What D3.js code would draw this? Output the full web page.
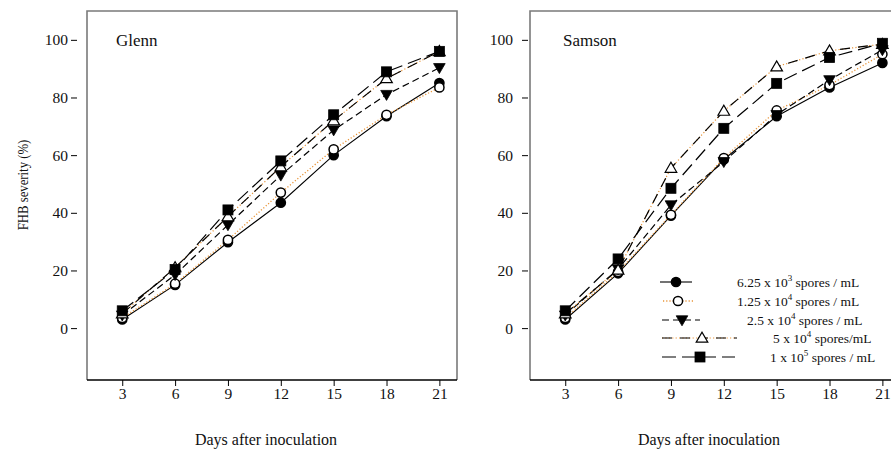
<!DOCTYPE html>
<html><head><meta charset="utf-8">
<script src="https://cdn.jsdelivr.net/npm/d3@7"></script>
<style>
body{margin:0;background:#fff;}
svg text{font-family:'Liberation Serif','Times New Roman',Times,serif !important;fill:#111;}
</style></head>
<body><svg id="c" width="891" height="449" font-family="Liberation Serif"></svg>
<script>
// ---- data ----
const days = [3, 6, 9, 12, 15, 18, 21];
const xTicks = [3, 6, 9, 12, 15, 18, 21];
const yTicks = [0, 20, 40, 60, 80, 100];
const cultivars = ["Glenn", "Samson"];
const legendMant = ["6.25 x 10", "1.25 x 10", "2.5 x 10", "5 x 10", "1 x 10"];
const legendExp = ["3", "4", "4", "4", "5"];
const legendUnit = [" spores / mL", " spores / mL", " spores / mL", " spores/mL", " spores / mL"];

// Glenn
const glenn_625e3 = [3.0, 15.0, 29.8, 43.5, 60.0, 73.5, 85.0];
const glenn_125e4 = [3.5, 15.4, 30.6, 47.0, 62.0, 74.0, 83.5];
const glenn_25e4  = [4.5, 18.5, 35.8, 53.0, 68.7, 81.0, 90.3];
const glenn_5e4   = [5.0, 21.0, 38.7, 56.0, 72.0, 86.6, 96.0];
const glenn_1e5   = [6.0, 20.3, 41.0, 58.0, 74.0, 88.9, 96.0];
// Samson
const samson_625e3 = [3.0, 19.0, 39.0, 58.5, 73.5, 83.5, 92.0];
const samson_125e4 = [3.5, 19.5, 39.3, 59.0, 75.5, 84.3, 95.0];
const samson_25e4  = [4.5, 20.5, 42.7, 57.7, 74.0, 86.1, 96.5];
const samson_5e4   = [5.0, 20.2, 55.5, 75.3, 90.7, 96.2, 98.5];
const samson_1e5   = [6.0, 24.0, 48.5, 69.3, 84.9, 93.9, 98.8];

const panelData = [
  [glenn_625e3, glenn_125e4, glenn_25e4, glenn_5e4, glenn_1e5],
  [samson_625e3, samson_125e4, samson_25e4, samson_5e4, samson_1e5]
];

// ---- styles ----
const FONT = "'Liberation Serif','Times New Roman',Times,serif";
const ORANGE = "#e8953a";
const markers = ["circleF", "circleO", "triDown", "triUp", "square"];

const svg = d3.select("#c");
const yTop = 11, yBot = 380;
const panels = [
  {x0: 87, x1: 457, tickOff: 10, tickPad: 3},
  {x0: 530, x1: 900, tickOff: 2, tickPad: 9}
];
const y = d3.scaleLinear().domain([-18, 110]).range([yBot, yTop]);

function drawMarker(g, type, cx, cy) {
  if (type === "circleF" || type === "circleO") {
    g.append("circle").attr("cx", cx).attr("cy", cy).attr("r", 4.6)
      .attr("fill", type === "circleF" ? "#000" : "#fff").attr("stroke", "#000").attr("stroke-width", 1.5);
  } else if (type === "square") {
    g.append("rect").attr("x", cx - 5).attr("y", cy - 5).attr("width", 10).attr("height", 10)
      .attr("fill", "#000").attr("stroke", "#000").attr("stroke-width", 0.8);
  } else if (type === "triDown") {
    g.append("path").attr("d", `M${cx-5.8},${cy-4.2}L${cx+5.8},${cy-4.2}L${cx},${cy+5.8}Z`)
      .attr("fill", "#000").attr("stroke", "#000").attr("stroke-width", 0.8);
  } else {
    g.append("path").attr("d", `M${cx-5.8},${cy+4.2}L${cx+5.8},${cy+4.2}L${cx},${cy-5.8}Z`)
      .attr("fill", "#fff").attr("stroke", "#000").attr("stroke-width", 1.2);
  }
}

function styleLine(sel, i, layer) {
  sel.attr("fill", "none");
  if (i === 0) sel.attr("stroke", "#000").attr("stroke-width", 1.1);
  else if (i === 1) sel.attr("stroke", ORANGE).attr("stroke-width", 1.3).attr("stroke-dasharray", "1.2,2");
  else if (i === 2) sel.attr("stroke", "#000").attr("stroke-width", 1.2).attr("stroke-dasharray", "7,4");
  else if (i === 3) {
    if (layer === 0) sel.attr("stroke", ORANGE).attr("stroke-width", 1.2).attr("stroke-dasharray", "1.2,2.2");
    else sel.attr("stroke", "#000").attr("stroke-width", 1.2).attr("stroke-dasharray", "10,8");
  } else sel.attr("stroke", "#000").attr("stroke-width", 1.2).attr("stroke-dasharray", "14,6");
}

function drawLine(g, pts, i) {
  const d = d3.line()(pts);
  styleLine(g.append("path").attr("d", d), i, 0);
  if (i === 3) styleLine(g.append("path").attr("d", d), i, 1);
}

panels.forEach((p, pi) => {
  const x = d3.scaleLinear().domain([1, 22]).range([p.x0, p.x1]);
  const g = svg.append("g");

  // frame
  g.append("path").attr("d", `M${p.x0},${yBot}V${yTop}H${p.x1}V${yBot}`)
    .attr("fill", "none").attr("stroke", "#7a7a7a").attr("stroke-width", 1.6);
  g.append("line").attr("x1", p.x0).attr("x2", p.x1).attr("y1", yBot).attr("y2", yBot)
    .attr("stroke", "#000").attr("stroke-width", 1.4);

  // y axis
  const ya = g.append("g").attr("transform", `translate(${p.x0 - p.tickOff},0)`)
    .call(d3.axisLeft(y).tickValues(yTicks).tickSize(6).tickPadding(p.tickPad));
  ya.attr("font-family", FONT).attr("font-size", 15);
  ya.select(".domain").remove();
  ya.selectAll("text").style("font-size", "15.5px").style("font-family", FONT);
  ya.selectAll("line").attr("stroke", "#000");

  // x axis
  const xa = g.append("g").attr("transform", `translate(0,${yBot})`)
    .call(d3.axisBottom(x).tickValues(xTicks).tickSize(6).tickPadding(2));
  xa.attr("font-family", FONT).attr("font-size", 15);
  xa.select(".domain").remove();
  xa.selectAll("text").style("font-size", "15.5px").style("font-family", FONT);
  xa.selectAll("line").attr("stroke", "#000");

  // x title
  g.append("text").attr("x", (p.x0 + p.x1) / 2 - 6).attr("y", 445).attr("text-anchor", "middle")
    .style("font-size", "16px").style("font-family", FONT).text("Days after inoculation");

  // panel label
  g.append("text").attr("x", p.x0 + (pi === 0 ? 29 : 33)).attr("y", 46)
    .style("font-size", "17px").style("font-family", FONT).text(cultivars[pi]);

  // series
  const series = panelData[pi];
  series.forEach((vals, i) => {
    drawLine(g, days.map((d, k) => [x(d), y(vals[k])]), i);
  });
  series.forEach((vals, i) => {
    days.forEach((d, k) => drawMarker(g, markers[i], x(d), y(vals[k])));
  });
});

// y title
svg.append("text").attr("transform", "translate(28,185) rotate(-90) scale(0.85,1)").attr("text-anchor", "middle")
  .style("font-size", "15px").style("font-family", FONT).text("FHB severity (%)");

// legend
const leg = svg.append("g");
const legRowY = [282, 301, 320, 338, 357];
const legLine = [[660, 692, 676], [663, 695, 678], [662, 700, 682], [662, 737, 702], [662, 735, 700]];
const legTextX = [737, 737, 747, 773, 770];
legendMant.forEach((m, i) => {
  const [a, b, c] = legLine[i];
  const yy = legRowY[i];
  styleLine(leg.append("line").attr("x1", a).attr("x2", b).attr("y1", yy).attr("y2", yy), i, 0);
  if (i === 3) styleLine(leg.append("line").attr("x1", a).attr("x2", b).attr("y1", yy).attr("y2", yy), i, 1);
  drawMarker(leg, markers[i], c, yy);
  const t = leg.append("text").attr("x", legTextX[i]).attr("y", yy + 4.5)
    .style("font-size", "13.5px").style("font-family", FONT);
  t.append("tspan").text(m);
  t.append("tspan").attr("dy", -6).style("font-size", "9px").text(legendExp[i]);
  t.append("tspan").attr("dy", 6).text(legendUnit[i]);
});
</script></body></html>
